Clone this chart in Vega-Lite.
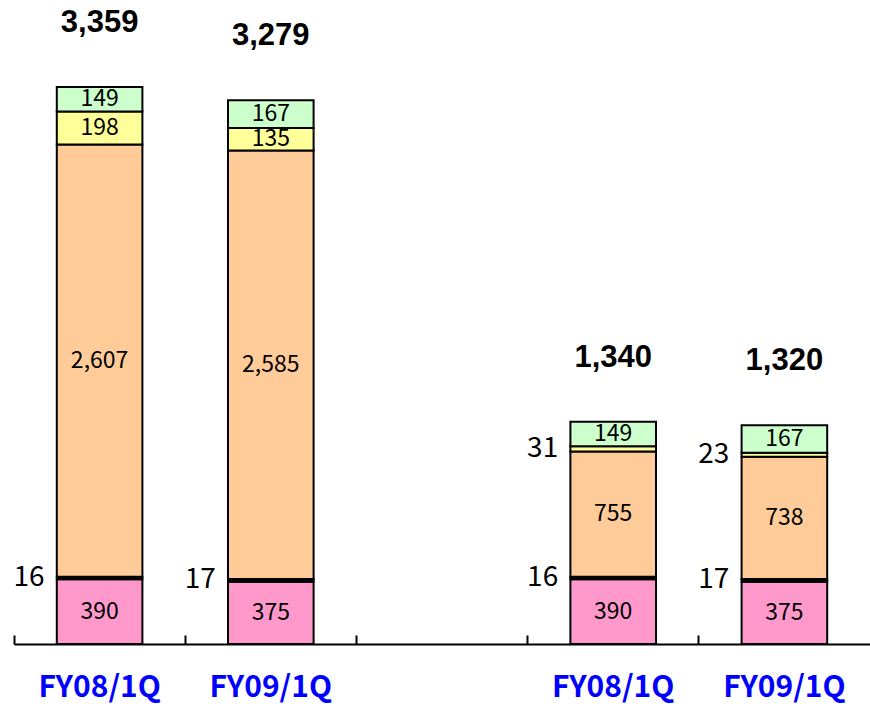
{
  "$schema": "https://vega.github.io/schema/vega-lite/v6.json",
  "width": 856,
  "height": 644,
  "autosize": {"type": "none"},
  "padding": {"left": 14, "top": 0, "right": 0, "bottom": 60},
  "background": "white",
  "config": {"view": {"stroke": null}},
  "datasets": {
    "segs": [
      {"cat": "1|FY08/1Q", "seg": "s1", "k": 1, "v": 390, "pos": "in"},
      {"cat": "1|FY08/1Q", "seg": "s2", "k": 2, "v": 16, "pos": "out"},
      {"cat": "1|FY08/1Q", "seg": "s3", "k": 3, "v": 2607, "pos": "in"},
      {"cat": "1|FY08/1Q", "seg": "s4", "k": 4, "v": 198, "pos": "in"},
      {"cat": "1|FY08/1Q", "seg": "s5", "k": 5, "v": 149, "pos": "in"},
      {"cat": "1|FY09/1Q", "seg": "s1", "k": 1, "v": 375, "pos": "in"},
      {"cat": "1|FY09/1Q", "seg": "s2", "k": 2, "v": 17, "pos": "out"},
      {"cat": "1|FY09/1Q", "seg": "s3", "k": 3, "v": 2585, "pos": "in"},
      {"cat": "1|FY09/1Q", "seg": "s4", "k": 4, "v": 135, "pos": "in"},
      {"cat": "1|FY09/1Q", "seg": "s5", "k": 5, "v": 167, "pos": "in"},
      {"cat": "2|FY08/1Q", "seg": "s1", "k": 1, "v": 390, "pos": "in"},
      {"cat": "2|FY08/1Q", "seg": "s2", "k": 2, "v": 16, "pos": "out"},
      {"cat": "2|FY08/1Q", "seg": "s3", "k": 3, "v": 755, "pos": "in"},
      {"cat": "2|FY08/1Q", "seg": "s4", "k": 4, "v": 31, "pos": "out"},
      {"cat": "2|FY08/1Q", "seg": "s5", "k": 5, "v": 149, "pos": "in"},
      {"cat": "2|FY09/1Q", "seg": "s1", "k": 1, "v": 375, "pos": "in"},
      {"cat": "2|FY09/1Q", "seg": "s2", "k": 2, "v": 17, "pos": "out"},
      {"cat": "2|FY09/1Q", "seg": "s3", "k": 3, "v": 738, "pos": "in"},
      {"cat": "2|FY09/1Q", "seg": "s4", "k": 4, "v": 23, "pos": "out"},
      {"cat": "2|FY09/1Q", "seg": "s5", "k": 5, "v": 167, "pos": "in"}
    ],
    "totals": [
      {"cat": "1|FY08/1Q", "total": 3359},
      {"cat": "1|FY09/1Q", "total": 3279},
      {"cat": "2|FY08/1Q", "total": 1340},
      {"cat": "2|FY09/1Q", "total": 1320}
    ]
  },
  "encoding": {
    "x": {
      "field": "cat",
      "type": "nominal",
      "title": null,
      "scale": {
        "domain": ["1|FY08/1Q", "1|FY09/1Q", "gap|", "2|FY08/1Q", "2|FY09/1Q"],
        "paddingInner": 0,
        "paddingOuter": 0
      },
      "axis": {
        "title": null,
        "labelExpr": "split(datum.label, '|')[1]",
        "bandPosition": 0,
        "tickSize": -9,
        "tickWidth": 2,
        "tickColor": "black",
        "domainColor": "black",
        "domainWidth": 2,
        "grid": false,
        "labelAngle": 0,
        "labelOverlap": false,
        "labelFont": "Noto Sans CJK JP",
        "labelFontWeight": "bold",
        "labelFontSize": 30,
        "labelColor": "#0000FF",
        "labelBaseline": "top",
        "labelPadding": 37
      }
    }
  },
  "layer": [
    {
      "data": {"name": "segs"},
      "transform": [
        {"stack": "v", "groupby": ["cat"], "sort": [{"field": "k", "order": "ascending"}], "as": ["y0", "y1"]},
        {"calculate": "(datum.y0 + datum.y1) / 2", "as": "mid"}
      ],
      "layer": [
        {
          "mark": {"type": "bar", "stroke": "black", "strokeWidth": 2, "width": {"band": 0.5}},
          "encoding": {
            "y": {"field": "y0", "type": "quantitative", "scale": {"domain": [0, 3884], "nice": false}, "axis": null},
            "y2": {"field": "y1"},
            "color": {
              "field": "seg",
              "type": "nominal",
              "scale": {"domain": ["s1", "s2", "s3", "s4", "s5"], "range": ["#FF99CC", "#000000", "#FFCC99", "#FFFF99", "#CCFFCC"]},
              "legend": null
            }
          }
        },
        {
          "transform": [{"filter": "datum.pos == 'in'"}],
          "mark": {"type": "text", "font": "Noto Sans CJK JP", "fontSize": 23, "baseline": "middle", "align": "center", "color": "black"},
          "encoding": {
            "y": {"field": "mid", "type": "quantitative", "scale": {"domain": [0, 3884], "nice": false}, "axis": null},
            "text": {"field": "v", "type": "quantitative", "format": ","}
          }
        },
        {
          "transform": [{"filter": "datum.pos == 'out'"}],
          "mark": {"type": "text", "font": "Noto Sans CJK JP", "fontSize": 28, "baseline": "middle", "align": "right", "dx": -55, "color": "black"},
          "encoding": {
            "y": {"field": "mid", "type": "quantitative", "scale": {"domain": [0, 3884], "nice": false}, "axis": null},
            "text": {"field": "v", "type": "quantitative", "format": ","}
          }
        }
      ]
    },
    {
      "data": {"name": "totals"},
      "mark": {"type": "text", "font": "Liberation Sans", "fontWeight": "bold", "fontSize": 31, "baseline": "middle", "align": "center", "dy": -64, "color": "black"},
      "encoding": {
        "y": {"field": "total", "type": "quantitative", "scale": {"domain": [0, 3884], "nice": false}, "axis": null},
        "text": {"field": "total", "type": "quantitative", "format": ","}
      }
    }
  ]
}
